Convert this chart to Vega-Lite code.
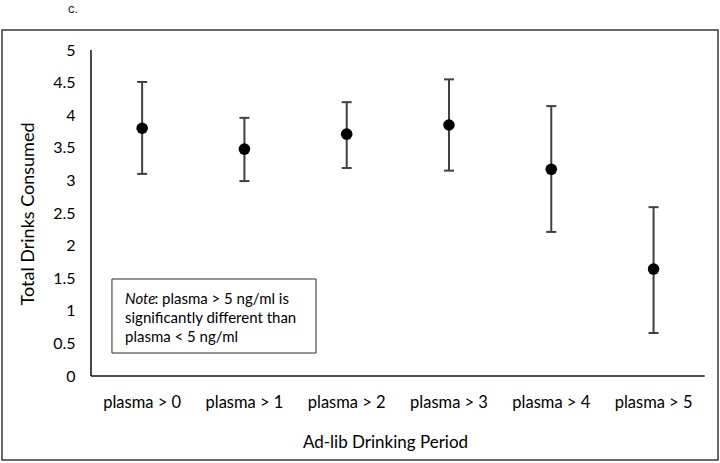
{
  "$schema": "https://vega.github.io/schema/vega-lite/v6.json",
  "width": 716,
  "height": 430,
  "autosize": {"type": "none"},
  "padding": {"left": 2, "top": 30, "right": 2, "bottom": 3},
  "background": "white",
  "title": {"text": "c.", "anchor": "start", "frame": "group", "dx": 66, "dy": 4, "offset": 8, "baseline": "alphabetic", "font": "Liberation Sans", "fontSize": 13, "fontWeight": "normal", "color": "#222222"},
  "config": {
    "view": {"stroke": "#3a3a3a", "strokeWidth": 1.5},
    "font": "Lato",
    "axis": {"labelFont": "Lato", "titleFont": "Lato", "labelColor": "#000000", "titleColor": "#000000", "labelFontSize": 16, "titleFontSize": 17, "titleFontWeight": "normal", "grid": false}
  },
  "resolve": {"scale": {"x": "independent"}},
  "layer": [
    {
      "data": {"values": [
        {"period": "plasma > 0", "mean": 3.8, "lo": 3.1, "hi": 4.51},
        {"period": "plasma > 1", "mean": 3.48, "lo": 2.99, "hi": 3.96},
        {"period": "plasma > 2", "mean": 3.71, "lo": 3.19, "hi": 4.2},
        {"period": "plasma > 3", "mean": 3.85, "lo": 3.15, "hi": 4.55},
        {"period": "plasma > 4", "mean": 3.17, "lo": 2.21, "hi": 4.14},
        {"period": "plasma > 5", "mean": 1.64, "lo": 0.66, "hi": 2.59}
      ]},
      "encoding": {
        "x": {"field": "period", "type": "nominal", "sort": null,
          "scale": {"type": "band", "paddingInner": 0, "paddingOuter": 0.5, "align": 0.87},
          "axis": {"title": "Ad-lib Drinking Period", "orient": "bottom", "offset": -84, "domain": false, "ticks": false, "labelPadding": 18, "labelFontSize": 16.5, "labelAngle": 0, "titleX": 383, "titleY": 66, "titleAlign": "center", "titleBaseline": "middle", "titleAnchor": null}}
      },
      "layer": [
        {
          "mark": {"type": "rule", "color": "#404040", "strokeWidth": 2},
          "encoding": {
            "y": {"field": "lo", "type": "quantitative",
              "scale": {"domain": [-1.288, 5.307], "nice": false, "zero": false},
              "axis": {"title": "Total Drinks Consumed", "offset": -89, "values": [0, 0.5, 1, 1.5, 2, 2.5, 3, 3.5, 4, 4.5, 5], "format": "~g", "domain": false, "ticks": false, "labelPadding": 16, "titleFontSize": 18, "titleX": -63, "titleY": 183.5, "titleAngle": -90, "titleAlign": "center", "titleBaseline": "middle"}},
            "y2": {"field": "hi"}
          }
        },
        {
          "mark": {"type": "tick", "color": "#404040", "thickness": 2, "size": 10, "orient": "horizontal", "opacity": 1},
          "encoding": {"y": {"field": "lo", "type": "quantitative"}}
        },
        {
          "mark": {"type": "tick", "color": "#404040", "thickness": 2, "size": 10, "orient": "horizontal", "opacity": 1},
          "encoding": {"y": {"field": "hi", "type": "quantitative"}}
        },
        {
          "mark": {"type": "point", "filled": true, "color": "#000000", "size": 133, "opacity": 1},
          "encoding": {"y": {"field": "mean", "type": "quantitative"}}
        }
      ]
    },
    {
      "data": {"values": [{"a": 1}]},
      "layer": [
        {
          "mark": {"type": "rule", "color": "#1a1a1a", "strokeWidth": 1.6},
          "encoding": {
            "x": {"datum": 0.87, "type": "quantitative", "scale": {"domain": [0, 7], "nice": false, "zero": false}, "axis": null},
            "y": {"datum": 0, "type": "quantitative"},
            "y2": {"datum": 5}
          }
        },
        {
          "mark": {"type": "rule", "color": "#1a1a1a", "strokeWidth": 1.6},
          "encoding": {
            "x": {"datum": 0.87, "type": "quantitative", "axis": null},
            "x2": {"datum": 6.87},
            "y": {"datum": 0, "type": "quantitative"}
          }
        },
        {
          "mark": {"type": "rect", "fill": "white", "stroke": "#2a2a2a", "strokeWidth": 1},
          "encoding": {
            "x": {"datum": 1.075, "type": "quantitative", "axis": null},
            "x2": {"datum": 3.07},
            "y": {"datum": 0.353, "type": "quantitative"},
            "y2": {"datum": 1.488}
          }
        },
        {
          "mark": {"type": "text", "text": "Note", "fontStyle": "italic", "font": "Lato", "fontSize": 15, "align": "left", "baseline": "middle", "color": "#000000"},
          "encoding": {
            "x": {"datum": 1.2025, "type": "quantitative", "axis": null},
            "y": {"datum": 1.181, "type": "quantitative"}
          }
        },
        {
          "mark": {"type": "text", "text": ": plasma > 5 ng/ml is", "font": "Lato", "fontSize": 15, "align": "left", "baseline": "middle", "color": "#000000"},
          "encoding": {
            "x": {"datum": 1.49, "type": "quantitative", "axis": null},
            "y": {"datum": 1.181, "type": "quantitative"}
          }
        },
        {
          "mark": {"type": "text", "text": "significantly different than", "font": "Lato", "fontSize": 15, "align": "left", "baseline": "middle", "color": "#000000"},
          "encoding": {
            "x": {"datum": 1.2025, "type": "quantitative", "axis": null},
            "y": {"datum": 0.89, "type": "quantitative"}
          }
        },
        {
          "mark": {"type": "text", "text": "plasma < 5 ng/ml", "font": "Lato", "fontSize": 15, "align": "left", "baseline": "middle", "color": "#000000"},
          "encoding": {
            "x": {"datum": 1.2025, "type": "quantitative", "axis": null},
            "y": {"datum": 0.598, "type": "quantitative"}
          }
        }
      ]
    }
  ]
}
